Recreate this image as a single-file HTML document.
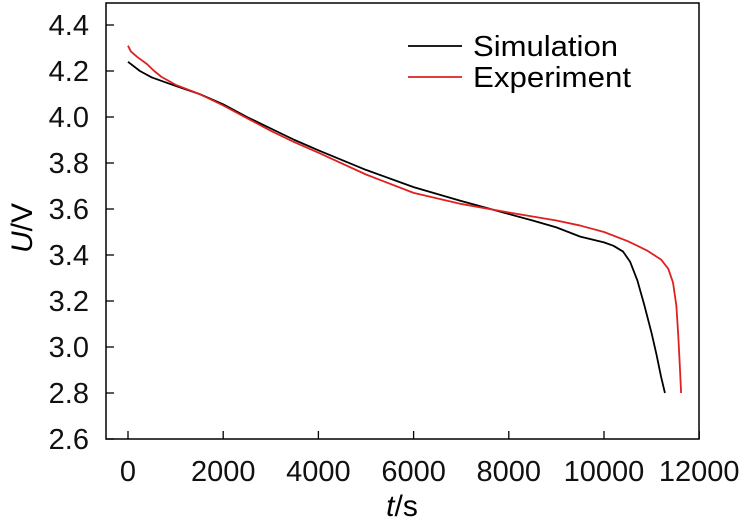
<!DOCTYPE html>
<html><head><style>body{margin:0;background:#fff}svg{display:block;font-family:"Liberation Sans",Arial,sans-serif}</style></head>
<body>
<svg id="s" width="746" height="524" xmlns="http://www.w3.org/2000/svg">
<rect x="106" y="3" width="593" height="436" fill="none" stroke="#000" stroke-width="1.5"/>
<g id="ticks" stroke="#000" stroke-width="1.3"></g>
<g id="labs" font-size="29" fill="#111"></g>
<polyline id="sim" fill="none" stroke="#000" stroke-width="1.8" stroke-linejoin="round"/>
<polyline id="exp" fill="none" stroke="#e02020" stroke-width="1.8" stroke-linejoin="round"/>
<line x1="408" y1="46" x2="462" y2="46" stroke="#000" stroke-width="1.8"/>
<line x1="408" y1="77" x2="462" y2="77" stroke="#e02020" stroke-width="1.8"/>
<text x="473" y="56" font-size="29" textLength="145" lengthAdjust="spacingAndGlyphs">Simulation</text>
<text x="473" y="87" font-size="29" textLength="158" lengthAdjust="spacingAndGlyphs">Experiment</text>
<text x="402" y="516" font-size="30" text-anchor="middle"><tspan font-style="italic">t</tspan>/s</text>
<text transform="translate(32,228) rotate(-90)" font-size="30" text-anchor="middle"><tspan font-style="italic">U</tspan>/V</text>
</svg>
<script>
var X=t=>128+0.0476*t, Y=v=>25+(4.4-v)*230;
var tk=document.getElementById('ticks'),lb=document.getElementById('labs'),h='',l='';
for(var i=0;i<=6;i++){var t=i*2000,x=X(t);h+=`<line x1="${x}" y1="439" x2="${x}" y2="431"/>`;l+=`<text x="${x}" y="481" text-anchor="middle">${t}</text>`;}
for(var i=0;i<=9;i++){var v=2.6+i*0.2,y=Y(v);h+=`<line x1="106" y1="${y}" x2="114" y2="${y}"/>`;l+=`<text x="89" y="${y+10}" text-anchor="end">${v.toFixed(1)}</text>`;}
tk.innerHTML=h;lb.innerHTML=l;
var sim=[[0,4.24],[250,4.2],[500,4.172],[1000,4.135],[1500,4.1],[2000,4.055],[2500,4.0],[3000,3.95],[3500,3.9],[4000,3.855],[5000,3.77],[6000,3.695],[7000,3.635],[8000,3.578],[8500,3.55],[9000,3.52],[9500,3.48],[10000,3.455],[10200,3.44],[10400,3.415],[10550,3.37],[10700,3.29],[10850,3.18],[11000,3.06],[11100,2.97],[11200,2.87],[11280,2.8]];
var exp=[[0,4.31],[60,4.285],[200,4.26],[400,4.23],[550,4.2],[700,4.175],[1000,4.14],[1500,4.1],[2000,4.05],[2500,3.995],[3000,3.94],[3500,3.89],[4000,3.845],[5000,3.75],[6000,3.67],[7000,3.622],[8000,3.585],[9000,3.55],[9500,3.528],[10000,3.5],[10500,3.46],[10900,3.42],[11200,3.38],[11350,3.34],[11450,3.28],[11520,3.18],[11560,3.05],[11590,2.93],[11620,2.8]];
var f=a=>a.map(p=>X(p[0])+','+Y(p[1])).join(' ');
document.getElementById('sim').setAttribute('points',f(sim));
document.getElementById('exp').setAttribute('points',f(exp));
</script>
</body></html>
